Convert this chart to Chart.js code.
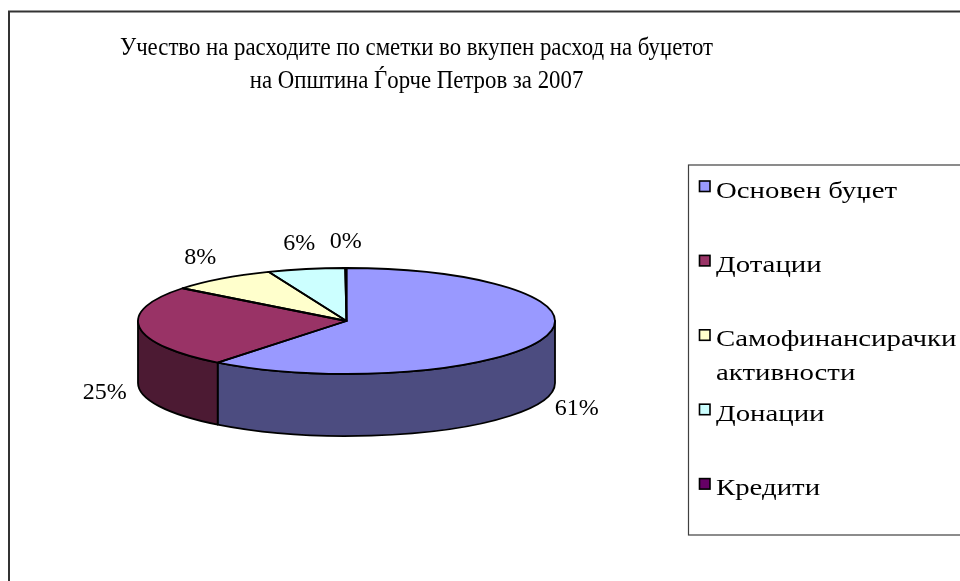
<!DOCTYPE html>
<html>
<head>
<meta charset="utf-8">
<script src="https://cdn.jsdelivr.net/npm/chart.js@4.4.1/dist/chart.umd.min.js"></script>
<style>
  html, body { margin: 0; padding: 0; background: #fff; }
  canvas { display: block; }
</style>
</head>
<body>
<canvas id="grafik" width="960" height="581"></canvas>
<script>
// Податоци
const naslov = ['Учество на расходите по сметки во вкупен расход на буџетот',
                'на Општина Ѓорче Петров за 2007'];
const kategorii = ['Основен буџет', 'Дотации', ['Самофинансирачки', 'активности'], 'Донации', 'Кредити'];
const udeli = [60.6, 25.0, 8.3, 6.0, 0.1];
const boiGore = ['#9999FF', '#993366', '#FFFFCC', '#CCFFFF', '#660066'];
const boiStrana = ['#4C4C80', '#4C1A33', '#808066', '#668080', '#330033'];

// Геометрија на 3Д питата
const CY = 321;          // центар на горната елипса
const SPLESKAJ = 53 / 208.5;
const DLABOCINA = 62;
const SERIF = '"Liberation Serif", "Times New Roman", serif';

function tekst(ctx, t, x, y, sx) {
    ctx.save();
    ctx.translate(x, y);
    ctx.scale(sx, 1);
    ctx.fillText(t, 0, 0);
    ctx.restore();
}

function geometrija(chart) {
    const arcs = chart.getDatasetMeta(0).data;
    const a0 = arcs[0];
    return { arcs: arcs, ox: a0.x, oy: a0.y, cx: a0.x, cy: CY, rx: a0.outerRadius, ry: a0.outerRadius * SPLESKAJ };
}

const pita3d = {
    id: 'pita3d',
    beforeDraw(chart) {
        const ctx = chart.ctx;
        ctx.save();
        ctx.fillStyle = '#fff';
        ctx.fillRect(0, 0, chart.width, chart.height);

        // рамка на графиконот
        ctx.strokeStyle = '#333';
        ctx.lineWidth = 2;
        ctx.strokeRect(9, 11.5, chart.width + 20, chart.height + 20);

        // наслов
        ctx.fillStyle = '#000';
        ctx.font = '25px ' + SERIF;
        ctx.textAlign = 'center';
        ctx.textBaseline = 'alphabetic';
        const sx = 593 / ctx.measureText(naslov[0]).width;
        tekst(ctx, naslov[0], 416.5, 55, sx);
        tekst(ctx, naslov[1], 416.5, 88, sx);

        // легенда
        ctx.strokeStyle = '#404040';
        ctx.lineWidth = 1.2;
        ctx.strokeRect(688.5, 165, 300, 370);
        ctx.font = '24px ' + SERIF;
        ctx.textAlign = 'left';
        const lsx = 181 / ctx.measureText(kategorii[0]).width;
        kategorii.forEach(function (k, i) {
            const b = 197.5 + 74.4 * i;
            ctx.fillStyle = boiGore[i];
            ctx.fillRect(699.5, b - 16.5, 10.5, 10.5);
            ctx.strokeStyle = '#000';
            ctx.lineWidth = 1.6;
            ctx.strokeRect(699.5, b - 16.5, 10.5, 10.5);
            ctx.fillStyle = '#000';
            const redovi = Array.isArray(k) ? k : [k];
            redovi.forEach(function (r, j) {
                tekst(ctx, r, 716, b + 34 * j, lsx);
            });
        });
        ctx.restore();
    },
    beforeDatasetsDraw(chart) {
        const ctx = chart.ctx;
        const g = geometrija(chart);
        // страни на питата (само предниот дел)
        ctx.save();
        ctx.strokeStyle = '#000';
        ctx.lineWidth = 1.8;
        ctx.lineJoin = 'round';
        g.arcs.forEach(function (arc, i) {
            const a = Math.max(arc.startAngle, 0);
            const b = Math.min(arc.endAngle, Math.PI);
            if (b <= a) return;
            ctx.beginPath();
            ctx.ellipse(g.cx, g.cy, g.rx, g.ry, 0, a, b);
            ctx.ellipse(g.cx, g.cy + DLABOCINA, g.rx, g.ry, 0, b, a, true);
            ctx.closePath();
            ctx.fillStyle = boiStrana[i];
            ctx.fill();
            ctx.stroke();
        });
        ctx.restore();
        // горниот дел: ја сплескуваме кружницата во елипса
        ctx.save();
        ctx.translate(g.cx, g.cy);
        ctx.scale(1, SPLESKAJ);
        ctx.translate(-g.ox, -g.oy);
    },
    afterDatasetsDraw(chart) {
        const ctx = chart.ctx;
        ctx.restore();
        const g = geometrija(chart);
        ctx.save();
        ctx.strokeStyle = '#000';
        ctx.lineWidth = 1.8;
        ctx.lineJoin = 'round';
        g.arcs.forEach(function (arc) {
            ctx.beginPath();
            ctx.moveTo(g.cx, g.cy);
            ctx.ellipse(g.cx, g.cy, g.rx, g.ry, 0, arc.startAngle, arc.endAngle);
            ctx.closePath();
            ctx.stroke();
        });

        // проценти
        const vkupno = udeli.reduce(function (s, v) { return s + v; }, 0);
        ctx.fillStyle = '#000';
        ctx.font = '24px ' + SERIF;
        ctx.textAlign = 'center';
        ctx.textBaseline = 'middle';
        g.arcs.forEach(function (arc, i) {
            const m = (arc.startAngle + arc.endAngle) / 2;
            const s = Math.sin(m);
            const x = g.cx + (g.rx + 35) * Math.cos(m);
            const y = g.cy + (g.ry + 26) * s + (s > 0 ? DLABOCINA : 0);
            tekst(ctx, Math.round(udeli[i] / vkupno * 100) + '%', x, y, 1);
        });
        ctx.restore();
    }
};

const ctx = document.getElementById('grafik').getContext('2d');
const grafik = new Chart(ctx, {
    type: 'pie',
    data: {
        labels: kategorii,
        datasets: [{
            data: udeli,
            backgroundColor: boiGore,
            borderWidth: 0
        }]
    },
    options: {
        responsive: false,
        animation: false,
        devicePixelRatio: 1,
        layout: { padding: { left: 138, right: 405, top: 60, bottom: 60 } },
        plugins: {
            legend: { display: false },
            title: { display: false },
            tooltip: { enabled: false }
        }
    },
    plugins: [pita3d]
});
</script>
</body>
</html>
